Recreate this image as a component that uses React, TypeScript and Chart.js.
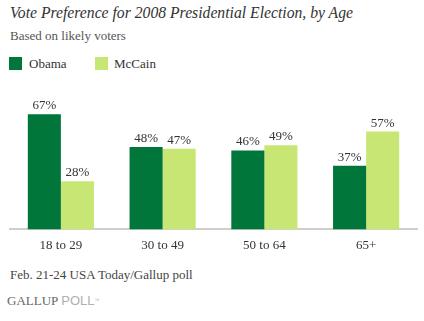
import React, { useEffect, useRef } from "react";
import { Chart, registerables } from "chart.js";

Chart.register(...registerables);

const TITLE = "Vote Preference for 2008 Presidential Election, by Age";
const SUBTITLE = "Based on likely voters";
const FOOTNOTE = "Feb. 21-24 USA Today/Gallup poll";

const categories = ["18 to 29", "30 to 49", "50 to 64", "65+"];
const obama = [67, 48, 46, 37];
const mccain = [28, 47, 49, 57];
const seriesNames = ["Obama", "McCain"];
const seriesColors = ["#00763a", "#c8e673"];

const SERIF = "'Liberation Serif', 'Times New Roman', serif";
const SANS = "'Liberation Sans', Arial, sans-serif";

const valueLabels = {
  id: "valueLabels",
  afterDatasetsDraw(chart: any) {
    const ctx = chart.ctx;
    ctx.save();
    ctx.font = `13px ${SERIF}`;
    ctx.fillStyle = "#333333";
    ctx.textAlign = "center";
    ctx.textBaseline = "alphabetic";
    chart.data.datasets.forEach((ds: any, di: number) => {
      const meta = chart.getDatasetMeta(di);
      meta.data.forEach((bar: any, i: number) => {
        ctx.fillText(`${ds.data[i]}%`, bar.x, bar.y - 5);
      });
    });
    ctx.restore();
  },
};

export default function App() {
  const canvasRef = useRef<HTMLCanvasElement | null>(null);

  useEffect(() => {
    if (!canvasRef.current) return;
    const chart = new Chart(canvasRef.current, {
      type: "bar",
      data: {
        labels: categories,
        datasets: [
          {
            label: seriesNames[0],
            data: obama,
            backgroundColor: seriesColors[0],
            categoryPercentage: 0.65,
            barPercentage: 1.0,
          },
          {
            label: seriesNames[1],
            data: mccain,
            backgroundColor: seriesColors[1],
            categoryPercentage: 0.65,
            barPercentage: 1.0,
          },
        ],
      },
      options: {
        responsive: false,
        animation: false,
        devicePixelRatio: 1,
        layout: { padding: { left: 10, right: 7, top: 12, bottom: 0 } },
        plugins: {
          legend: { display: false },
          tooltip: { enabled: false },
          title: { display: false },
        },
        scales: {
          x: {
            z: 1,
            grid: { display: false, drawTicks: false },
            border: { display: true, color: "#cfcfc7", width: 2 },
            ticks: {
              color: "#333333",
              font: { family: SERIF, size: 13 },
              padding: 8,
            },
          },
          y: {
            display: false,
            min: 0,
            max: 80,
          },
        },
      },
      plugins: [valueLabels],
    });
    return () => chart.destroy();
  }, []);

  const text = (extra: React.CSSProperties): React.CSSProperties => ({
    position: "absolute",
    whiteSpace: "nowrap",
    margin: 0,
    ...extra,
  });

  return (
    <div
      style={{
        position: "absolute",
        left: 0,
        top: 0,
        width: 424,
        height: 321,
        background: "#ffffff",
        overflow: "hidden",
      }}
    >
      <div
        style={text({
          left: 10,
          top: 5,
          fontFamily: SERIF,
          fontStyle: "italic",
          fontSize: 15.7,
          lineHeight: "15.7px",
          color: "#333333",
        })}
      >
        {TITLE}
      </div>
      <div
        style={text({
          left: 10,
          top: 29,
          fontFamily: SERIF,
          fontSize: 13,
          lineHeight: "13px",
          color: "#555555",
        })}
      >
        {SUBTITLE}
      </div>
      {seriesNames.map((name, i) => (
        <React.Fragment key={name}>
          <div
            style={{
              position: "absolute",
              left: i === 0 ? 9 : 95,
              top: 57,
              width: 13,
              height: 13,
              background: seriesColors[i],
            }}
          />
          <div
            style={text({
              left: i === 0 ? 29 : 114,
              top: 57,
              fontFamily: SERIF,
              fontSize: 13,
              lineHeight: "13px",
              color: "#333333",
            })}
          >
            {name}
          </div>
        </React.Fragment>
      ))}
      <div style={{ position: "absolute", left: 0, top: 80, width: 424, height: 181 }}>
        <canvas
          ref={canvasRef}
          width={424}
          height={181}
          style={{ width: 424, height: 181, display: "block" }}
        />
      </div>
      <div
        style={text({
          left: 10,
          top: 268,
          fontFamily: SERIF,
          fontSize: 13,
          lineHeight: "13px",
          color: "#444444",
        })}
      >
        {FOOTNOTE}
      </div>
      <div
        style={text({
          left: 7,
          top: 294,
          fontSize: 13,
          lineHeight: "13px",
        })}
      >
        <span style={{ fontFamily: SERIF, color: "#666666" }}>GALLUP</span>
        <span style={{ fontFamily: SANS, color: "#b0b0b0", marginLeft: 3 }}>POLL</span>
        <span style={{ fontFamily: SANS, color: "#b0b0b0", fontSize: 5, verticalAlign: "top" }}>™</span>
      </div>
    </div>
  );
}
